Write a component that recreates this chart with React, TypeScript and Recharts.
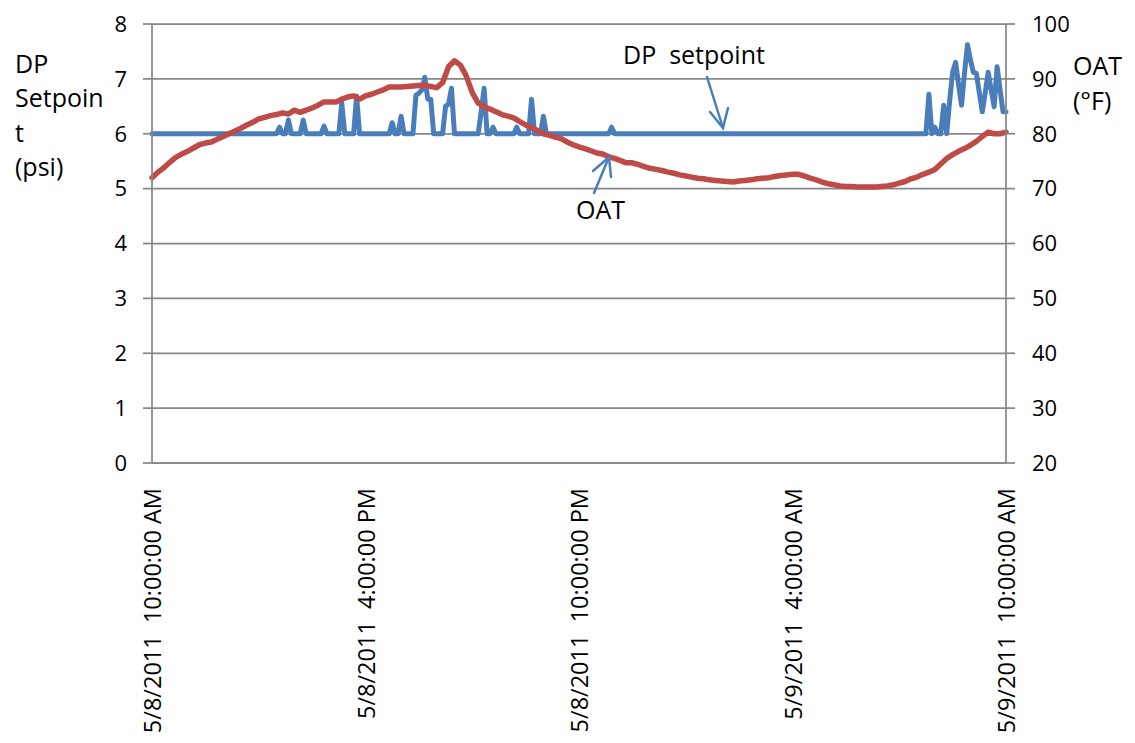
import React from 'react';
import { LineChart, Line, XAxis, YAxis, CartesianGrid } from 'recharts';

// 5/8/2011 10:00 AM -> 5/9/2011 10:00 AM, x in minutes from start
const dpStepMinutes = 5;
const oatStepMinutes = 10;

const xTickMinutes = [0, 360, 720, 1080, 1440];
const xTickLabels = [
  '5/8/2011  10:00:00 AM',
  '5/8/2011  4:00:00 PM',
  '5/8/2011  10:00:00 PM',
  '5/9/2011  4:00:00 AM',
  '5/9/2011  10:00:00 AM',
];
const dpTicks = [0, 1, 2, 3, 4, 5, 6, 7, 8];
const oatTicks = [20, 30, 40, 50, 60, 70, 80, 90, 100];

// DP setpoint (psi), 5-minute samples
const dpSetpoint = [
  6, 6, 6, 6, 6, 6, 6, 6, 6, 6,
  6, 6, 6, 6, 6, 6, 6, 6, 6, 6,
  6, 6, 6, 6, 6, 6, 6, 6, 6, 6,
  6, 6, 6, 6, 6, 6, 6, 6, 6, 6,
  6, 6, 6, 6.12, 6, 6, 6.25, 6, 6, 6,
  6, 6.25, 6, 6, 6, 6, 6, 6, 6.14, 6,
  6, 6, 6, 6, 6.56, 6, 6, 6, 6, 6.69,
  6, 6, 6, 6, 6, 6, 6, 6, 6, 6,
  6, 6.2, 6, 6, 6.32, 6, 6, 6, 6, 6.7,
  6.74, 6.8, 7.03, 6.63, 6.63, 6, 6, 6, 6, 6.5,
  6.54, 6.83, 6, 6, 6, 6, 6, 6, 6, 6,
  6, 6.4, 6.83, 6, 6, 6.12, 6, 6, 6, 6,
  6, 6, 6, 6.12, 6, 6, 6, 6, 6.63, 6,
  6, 6, 6.32, 6, 6, 6, 6, 6, 6, 6,
  6, 6, 6, 6, 6, 6, 6, 6, 6, 6,
  6, 6, 6, 6, 6, 6.12, 6, 6, 6, 6,
  6, 6, 6, 6, 6, 6, 6, 6, 6, 6,
  6, 6, 6, 6, 6, 6, 6, 6, 6, 6,
  6, 6, 6, 6, 6, 6, 6, 6, 6, 6,
  6, 6, 6, 6, 6, 6, 6, 6, 6, 6,
  6, 6, 6, 6, 6, 6, 6, 6, 6, 6,
  6, 6, 6, 6, 6, 6, 6, 6, 6, 6,
  6, 6, 6, 6, 6, 6, 6, 6, 6, 6,
  6, 6, 6, 6, 6, 6, 6, 6, 6, 6,
  6, 6, 6, 6, 6, 6, 6, 6, 6, 6,
  6, 6, 6, 6, 6, 6, 6, 6, 6, 6,
  6, 6, 6.72, 6, 6.12, 6, 6, 6.52, 6, 6.6,
  7.12, 7.3, 6.9, 6.52, 7.1, 7.62, 7.35, 7.12, 7.1, 6.75,
  6.4, 6.75, 7.12, 6.8, 6.49, 7.22, 6.8, 6.4, 6.4,
];

// outside air temperature (°F), 10-minute samples
const oat = [
  72.0, 73.0, 73.8, 74.8, 75.7, 76.3, 76.8, 77.4, 78.0, 78.3,
  78.5, 79.0, 79.5, 80.0, 80.5, 81.0, 81.6, 82.1, 82.7, 83.0,
  83.3, 83.5, 83.8, 83.6, 84.3, 83.9, 84.3, 84.7, 85.2, 85.8,
  85.8, 85.8, 86.3, 86.7, 86.9, 86.3, 86.9, 87.2, 87.6, 88.0,
  88.5, 88.5, 88.5, 88.6, 88.7, 88.8, 88.9, 88.6, 88.4, 89.3,
  92.2, 93.3, 92.5, 90.5, 87.5, 85.6, 84.9, 84.5, 84.0, 83.5,
  83.2, 82.9, 82.2, 81.6, 81.1, 80.6, 80.0, 79.7, 79.4, 79.1,
  78.5, 78.0, 77.6, 77.3, 76.9, 76.5, 76.3, 75.8, 75.5, 75.1,
  74.7, 74.7, 74.4, 74.0, 73.7, 73.5, 73.3, 73.0, 72.8, 72.5,
  72.3, 72.1, 71.9, 71.8, 71.6, 71.5, 71.4, 71.3, 71.2, 71.4,
  71.5, 71.6, 71.8, 71.9, 72.0, 72.2, 72.4, 72.5, 72.6, 72.6,
  72.3, 71.9, 71.6, 71.2, 70.9, 70.7, 70.5, 70.4, 70.4, 70.3,
  70.3, 70.3, 70.3, 70.4, 70.5, 70.7, 71.0, 71.3, 71.8, 72.1,
  72.6, 73.0, 73.5, 74.5, 75.5, 76.2, 76.8, 77.3, 77.9, 78.6,
  79.5, 80.3, 80.0, 80.0, 80.3,
];

const dpRows = dpSetpoint.map((dp, i) => ({ minute: i * dpStepMinutes, dp }));
const oatRows = oat.map((v, i) => ({ minute: i * oatStepMinutes, oat: v }));

const FONT = "'Open Sans', sans-serif";
const GRAY = '#888888';
const BLUE = '#4A7EBB';
const RED = '#BE4B48';

const TimeTick = ({ x, y, payload }: any) => {
  const label = xTickLabels[xTickMinutes.indexOf(payload.value)];
  return (
    <text
      x={x}
      y={y}
      transform={`rotate(-90 ${x} ${y})`}
      textAnchor="end"
      dominantBaseline="central"
      fontSize={23.5}
      fontFamily={FONT}
      fill="#000"
      style={{ whiteSpace: 'pre' }}
    >
      {label}
    </text>
  );
};

export default function App() {
  const tickStyle = { fontSize: 22, fontFamily: FONT, fill: '#000' };
  const titleStyle = { fontSize: 25, fontFamily: FONT, fill: '#000' };
  return (
    <div style={{ position: 'absolute', left: 0, top: 0, width: 1135, height: 743, background: '#fff' }}>
      <LineChart width={1135} height={743} margin={{ top: 24, right: 0, bottom: 0, left: 0 }}>
        <CartesianGrid yAxisId="dp" vertical={false} stroke={GRAY} strokeWidth={1.75} />
        <XAxis
          type="number"
          dataKey="minute"
          domain={[0, 1440]}
          ticks={xTickMinutes}
          interval={0}
          height={280}
          tickSize={0}
          tickMargin={25}
          tickLine={false}
          axisLine={{ stroke: GRAY, strokeWidth: 1.75 }}
          tick={<TimeTick />}
          allowDuplicatedCategory={false}
        />
        <YAxis
          yAxisId="dp"
          domain={[0, 8]}
          ticks={dpTicks}
          interval={0}
          width={152}
          tickSize={9}
          tickMargin={16}
          axisLine={{ stroke: GRAY, strokeWidth: 1.75 }}
          tickLine={{ stroke: GRAY, strokeWidth: 1.75 }}
          tick={tickStyle}
        />
        <YAxis
          yAxisId="oat"
          orientation="right"
          domain={[20, 100]}
          ticks={oatTicks}
          interval={0}
          width={129}
          tickSize={9}
          tickMargin={17}
          axisLine={{ stroke: GRAY, strokeWidth: 1.75 }}
          tickLine={{ stroke: GRAY, strokeWidth: 1.75 }}
          tick={tickStyle}
        />
        <Line
          data={dpRows}
          yAxisId="dp"
          type="linear"
          dataKey="dp"
          stroke={BLUE}
          strokeWidth={5}
          strokeLinejoin="round"
          strokeLinecap="round"
          dot={false}
          isAnimationActive={false}
        />
        <Line
          data={oatRows}
          yAxisId="oat"
          type="linear"
          dataKey="oat"
          stroke={RED}
          strokeWidth={5.5}
          strokeLinejoin="round"
          strokeLinecap="round"
          dot={false}
          isAnimationActive={false}
        />
      </LineChart>
      <svg width={1135} height={743} style={{ position: 'absolute', left: 0, top: 0, pointerEvents: 'none' }}>
        {/* axis titles */}
        <text x={15} {...titleStyle}>
          <tspan x={15} y={73}>DP</tspan>
          <tspan x={15} y={107}>Setpoin</tspan>
          <tspan x={15} y={142}>t</tspan>
          <tspan x={15} y={176}>(psi)</tspan>
        </text>
        <text x={1073} {...titleStyle}>
          <tspan x={1073} y={75}>OAT</tspan>
          <tspan x={1073} y={110}>(°F)</tspan>
        </text>
        {/* callouts */}
        <text x={623} y={64} {...titleStyle} style={{ whiteSpace: 'pre' }}>DP  setpoint</text>
        <g stroke={BLUE} strokeWidth={2.5} fill="none" strokeLinecap="round">
          <line x1={707} y1={77} x2={723} y2={128} />
          <polyline points="710,112 723,128 728,108" />
        </g>
        <text x={576} y={219} {...titleStyle}>OAT</text>
        <g stroke={BLUE} strokeWidth={2.5} fill="none" strokeLinecap="round">
          <line x1={594} y1={193} x2={609} y2={157} />
          <polyline points="593,171 609,157 611,177" />
        </g>
      </svg>
    </div>
  );
}
